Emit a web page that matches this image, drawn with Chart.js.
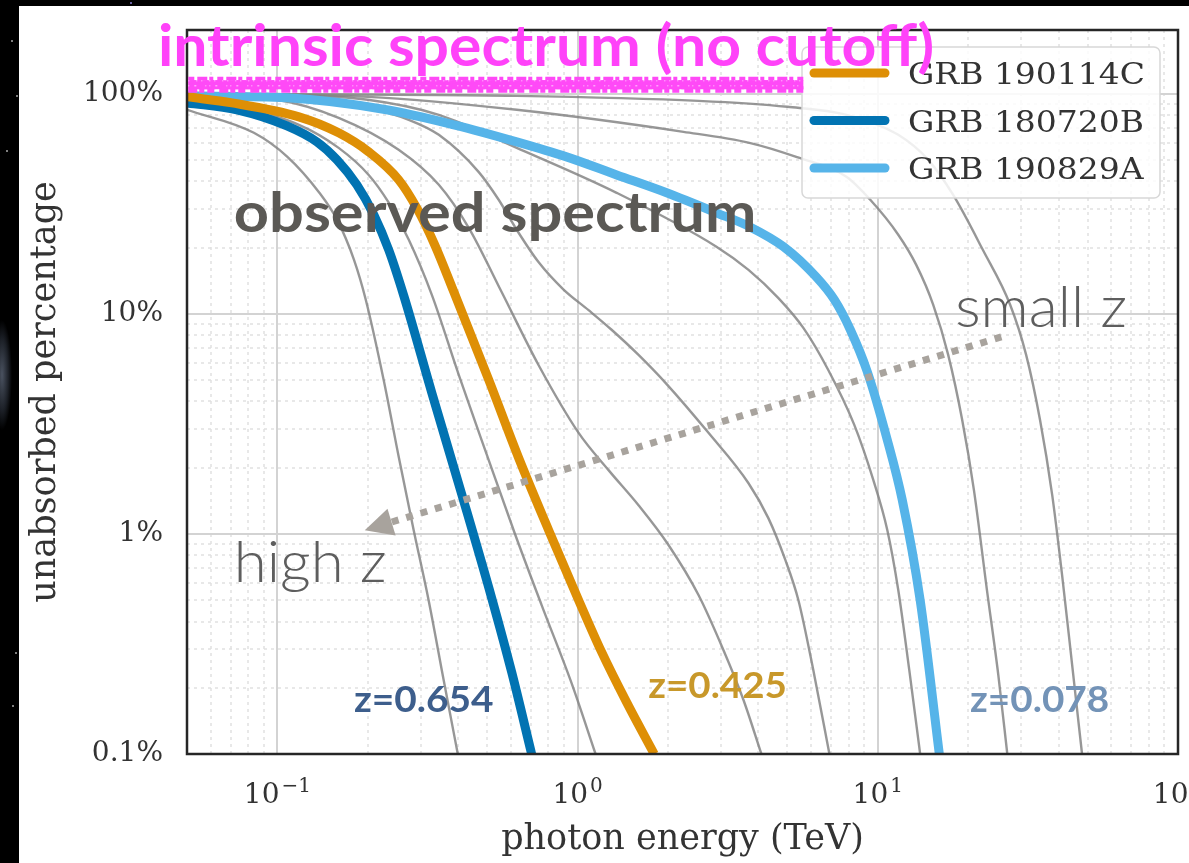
<!DOCTYPE html>
<html>
<head>
<meta charset="utf-8">
<title>EBL absorption</title>
<script src="https://cdn.jsdelivr.net/npm/chart.js@4.4.1/dist/chart.umd.min.js"></script>
<style>
    html, body { margin: 0; padding: 0; background: #000; overflow: hidden; width: 1189px; height: 863px; }
    body { background: radial-gradient(ellipse 10px 55px at 2px 375px, #4a5260 0%, #1c2027 65%, #000 100%), #000; }
    #panel { position: absolute; left: 19px; top: 6px; right: 0; bottom: 0; background: #fff; }
    #chart { position: absolute; left: 0; top: 0; }
    .star { position: absolute; width: 2px; height: 2px; background: #aaa; border-radius: 1px; }
</style>
</head>
<body>
<div class="star" style="left:11px;top:40px"></div>
<div class="star" style="left:16px;top:95px"></div>
<div class="star" style="left:6px;top:150px"></div>
<div class="star" style="left:12px;top:705px"></div>
<div class="star" style="left:15px;top:652px"></div>
<div class="star" style="left:130px;top:2px;background:#8a7fd6"></div>
<div id="panel"></div>
<canvas id="chart" width="1189" height="863"></canvas>
<script>
// photon energy (TeV) vs unabsorbed percentage
const grb190114C = [
    [0.05, 96.9], [0.0706, 91.0], [0.118, 78.6], [0.16, 66.5], [0.2015, 54.5],
    [0.2535, 40.7], [0.2912, 30.3], [0.3343, 20.6], [0.387, 12.6], [0.506, 5.01],
    [0.636, 2.22], [0.801, 1.04], [1.008, 0.5], [1.202, 0.291], [1.456, 0.172], [1.8, 0.1]
];
const grb180720B = [
    [0.05, 91.0], [0.0733, 84.6], [0.1076, 71.5], [0.1354, 60.5], [0.158, 50.1],
    [0.1839, 38.6], [0.2095, 28.2], [0.235, 19.5], [0.2636, 12.1], [0.327, 4.37],
    [0.411, 1.52], [0.5174, 0.512], [0.603, 0.236], [0.703, 0.1]
];
const grb190829A = [
    [0.05, 97.9], [0.108, 95.9], [0.231, 84.6], [0.387, 72.3], [0.627, 60.5],
    [0.919, 51.7], [1.35, 42.8], [1.98, 35.5], [2.9, 28.8], [3.74, 24.9],
    [4.85, 20.2], [6.24, 14.7], [7.165, 11.6], [8.1, 8.47], [9.23, 5.45],
    [10.76, 2.67], [12.06, 1.43], [13.84, 0.5], [16.03, 0.1]
];

// grey reference curves, highest redshift first
const otherZ1 = [[0.05, 84.6], [0.0835, 66.5], [0.108, 51.7], [0.138, 35.5], [0.158, 26.8], [0.18, 17.6], [0.197, 11.6], [0.226, 5.01], [0.2535, 2.25], [0.2845, 1.04], [0.319, 0.5], [0.358, 0.217], [0.399, 0.1]];
const otherZ2 = [[0.05, 94.0], [0.0706, 88.2], [0.118, 72.3], [0.16, 56.8], [0.2015, 42.8], [0.235, 32.0], [0.274, 21.7], [0.327, 12.2], [0.402, 5.28], [0.498, 2.3], [0.617, 1.01], [0.759, 0.475], [0.955, 0.21], [1.148, 0.1]];
const otherZ3 = [[0.05, 99.0], [0.0996, 94.0], [0.16, 77.8], [0.2535, 55.7], [0.345, 38.6], [0.434, 24.6], [0.558, 12.6], [0.741, 5.86], [1.008, 2.88], [1.268, 1.95], [1.596, 1.35], [2.008, 0.891], [2.528, 0.528], [3.06, 0.297], [3.57, 0.176], [4.095, 0.1]];
const otherZ4 = [[0.05, 100], [0.0996, 97.9], [0.2, 86.4], [0.274, 76.2], [0.345, 65.1], [0.468, 44.2], [0.546, 33.0], [0.627, 24.1], [0.741, 17.2], [0.898, 12.9], [1.088, 10.4], [1.298, 8.47], [1.596, 6.51], [1.963, 4.86], [2.729, 2.88], [3.71, 1.7], [4.32, 1.18], [4.92, 0.762], [5.44, 0.5], [6.1, 0.24], [6.9, 0.1]];
const otherZ5 = [[0.05, 100], [0.0996, 99.0], [0.2, 94.0], [0.345, 80.3], [0.627, 56.8], [1.349, 35.5], [2.901, 20.2], [3.71, 15.85], [4.667, 11.8], [5.65, 8.64], [6.84, 5.56], [8.35, 3.13], [9.66, 1.76], [10.76, 1.04], [11.7, 0.556], [12.73, 0.241], [13.84, 0.1]];
const otherZ6 = [[0.05, 100], [0.2, 96.9], [0.627, 84.6], [2.253, 67.2], [3.735, 59.9], [5.35, 51.7], [7.86, 42.0], [9.44, 33.0], [11.7, 22.9], [13.43, 16.7], [15.3, 11.0], [17.16, 6.51], [19.1, 3.3], [20.9, 1.585], [23.1, 0.556], [25.2, 0.229], [27.0, 0.1]];
const otherZ7 = [[0.05, 100], [0.627, 97.9], [2.528, 92.9], [5.0, 87.3], [7.86, 80.3], [11.7, 65.1], [14.72, 50.1], [17.83, 34.7], [22.4, 19.5], [27.6, 11.0], [31.2, 6.51], [34.7, 3.3], [38.1, 1.504], [41.1, 0.651], [44.4, 0.254], [47.9, 0.1]];

const grbSeries = [grb190114C, grb180720B, grb190829A];
const grbLabels = ['GRB 190114C', 'GRB 180720B', 'GRB 190829A'];
const otherSeries = [otherZ1, otherZ2, otherZ3, otherZ4, otherZ5, otherZ6, otherZ7];

const GRB_COLORS = ['#de8f05', '#0173b2', '#56b4e9'];
const SERIF = 'DejaVu Serif';

function toPoints(pairs) {
    return pairs.map(p => ({ x: p[0], y: p[1] }));
}

function tickKind(v) {
    const e = Math.floor(Math.log10(v) + 1e-9);
    const m = v / Math.pow(10, e);
    const r = Math.round(m);
    if (Math.abs(m - r) > 1e-6) return 'none';
    return (r === 1 || r === 10) ? 'major' : 'minor';
}

const datasets = [];
grbSeries.forEach((s, i) => {
    datasets.push({
        label: grbLabels[i],
        data: toPoints(s),
        borderColor: GRB_COLORS[i],
        borderWidth: 9,
        order: 0
    });
});
otherSeries.forEach(s => {
    datasets.push({
        label: '',
        data: toPoints(s),
        borderColor: 'rgba(128,128,128,0.82)',
        borderWidth: 2.4,
        order: 1
    });
});
datasets.forEach(d => {
    d.pointRadius = 0;
    d.cubicInterpolationMode = 'monotone';
    d.clip = 0;
    d.fill = false;
});

// log grid: solid majors, dotted minors
const gridPlugin = {
    id: 'logGrid',
    beforeDatasetsDraw(chart) {
        const { ctx, chartArea: a, scales: { x, y } } = chart;
        ctx.save();
        ['minor', 'major'].forEach(kind => {
            ctx.strokeStyle = kind === 'major' ? '#d3d3d3' : '#e1e1e1';
            ctx.lineWidth = kind === 'major' ? 2 : 1.5;
            ctx.setLineDash(kind === 'major' ? [] : [3, 4]);
            x.ticks.forEach(t => {
                if (tickKind(t.value) !== kind) return;
                const p = Math.round(x.getPixelForValue(t.value));
                ctx.beginPath(); ctx.moveTo(p, a.top); ctx.lineTo(p, a.bottom); ctx.stroke();
            });
            y.ticks.forEach(t => {
                if (tickKind(t.value) !== kind) return;
                const p = Math.round(y.getPixelForValue(t.value));
                ctx.beginPath(); ctx.moveTo(a.left, p); ctx.lineTo(a.right, p); ctx.stroke();
            });
        });
        ctx.restore();
    }
};

function fitText(ctx, text, x1, x2, yBase, font, color) {
    ctx.save();
    ctx.font = font;
    ctx.fillStyle = color;
    ctx.textBaseline = 'alphabetic';
    ctx.textAlign = 'left';
    const w = ctx.measureText(text).width;
    ctx.translate(x1, yBase);
    ctx.scale((x2 - x1) / w, 1);
    ctx.fillText(text, 0, 0);
    ctx.restore();
}

// x tick labels as 10 with a raised exponent, centred on each decade
function drawPowerLabels(ctx, scale, baseY) {
    ctx.save();
    ctx.fillStyle = '#333';
    ctx.textBaseline = 'alphabetic';
    ctx.textAlign = 'left';
    scale.ticks.forEach(t => {
        if (tickKind(t.value) !== 'major') return;
        const exp = String(Math.round(Math.log10(t.value))).replace('-', '\u2212');
        ctx.font = '28px "' + SERIF + '"';
        const wBase = ctx.measureText('10').width;
        ctx.font = '20px "' + SERIF + '"';
        const wExp = ctx.measureText(exp).width;
        const x0 = scale.getPixelForValue(t.value) - (wBase + 2 + wExp) / 2;
        ctx.font = '28px "' + SERIF + '"';
        ctx.fillText('10', x0, baseY);
        ctx.font = '20px "' + SERIF + '"';
        ctx.fillText(exp, x0 + wBase + 2, baseY - 11);
    });
    ctx.restore();
}

const overlayPlugin = {
    id: 'overlay',
    afterDraw(chart) {
        const { ctx, chartArea: a, scales: { x, y } } = chart;
        const px = v => x.getPixelForValue(v);
        const py = v => y.getPixelForValue(v);
        ctx.save();

        drawPowerLabels(ctx, x, a.bottom + 49);

        // axes frame
        ctx.strokeStyle = '#262626';
        ctx.lineWidth = 2.5;
        ctx.strokeRect(a.left, a.top, a.right - a.left, a.bottom - a.top);

        // legend, upper right
        const lw = 358, lh = 151;
        const lx = a.right - 18 - lw, ly = a.top + 17;
        ctx.fillStyle = 'rgba(255,255,255,0.85)';
        ctx.strokeStyle = '#d8d8d8';
        ctx.lineWidth = 1.5;
        ctx.beginPath();
        ctx.roundRect(lx, ly, lw, lh, 6);
        ctx.fill();
        ctx.stroke();
        ctx.font = '30px "' + SERIF + '"';
        const sx = 237 / ctx.measureText(grbLabels[0]).width;
        grbLabels.forEach((label, i) => {
            const ry = ly + 26 + i * 47.5;
            ctx.strokeStyle = GRB_COLORS[i];
            ctx.lineWidth = 9;
            ctx.lineCap = 'round';
            ctx.beginPath(); ctx.moveTo(lx + 12, ry); ctx.lineTo(lx + 83, ry); ctx.stroke();
            ctx.save();
            ctx.fillStyle = '#333';
            ctx.textBaseline = 'alphabetic';
            ctx.translate(lx + 106, ry + 11);
            ctx.scale(sx, 1);
            ctx.fillText(label, 0, 0);
            ctx.restore();
        });
        ctx.lineCap = 'butt';

        // hand-drawn "intrinsic" stroke at the top
        const s1 = px(0.0505), s2 = px(5.65), sy = py(110);
        ctx.strokeStyle = '#ff4af7';
        ctx.lineWidth = 9;
        ctx.beginPath(); ctx.moveTo(s1, sy); ctx.lineTo(s2, sy); ctx.stroke();
        [[-6, 4, [6, 3, 10, 2, 4, 4]], [6, 4, [9, 2, 5, 3, 7, 5]], [-3, 3, [14, 3, 3, 2]], [3, 3, [4, 6, 11, 2]]].forEach(r => {
            ctx.lineWidth = r[1];
            ctx.setLineDash(r[2]);
            ctx.beginPath(); ctx.moveTo(s1, sy + r[0]); ctx.lineTo(s2, sy + r[0]); ctx.stroke();
        });
        ctx.strokeStyle = 'rgba(255,255,255,0.5)';
        ctx.lineWidth = 1.5;
        ctx.setLineDash([1, 5, 2, 9, 1, 3]);
        ctx.beginPath(); ctx.moveTo(s1, sy + 1); ctx.lineTo(s2, sy + 1); ctx.stroke();
        ctx.setLineDash([1, 7, 1, 4]);
        ctx.beginPath(); ctx.moveTo(s1, sy - 4); ctx.lineTo(s2, sy - 4); ctx.stroke();
        ctx.setLineDash([]);

        // dotted arrow from small z to high z
        const tx = px(25.8), ty = py(7.86), hx = px(0.1955), hy = py(1.04);
        const dx = hx - tx, dy = hy - ty, len = Math.hypot(dx, dy);
        const ux = dx / len, uy = dy / len;
        const bx = hx - ux * 28, by = hy - uy * 28;
        ctx.strokeStyle = '#a8a39d';
        ctx.fillStyle = '#a8a39d';
        ctx.lineWidth = 7;
        ctx.setLineDash([7, 8]);
        ctx.beginPath(); ctx.moveTo(tx, ty); ctx.lineTo(bx, by); ctx.stroke();
        ctx.setLineDash([]);
        ctx.beginPath();
        ctx.moveTo(hx, hy);
        ctx.lineTo(bx - uy * 14, by + ux * 14);
        ctx.lineTo(bx + uy * 14, by - ux * 14);
        ctx.closePath();
        ctx.fill();

        // text notes
        fitText(ctx, 'intrinsic spectrum (no cutoff)', px(0.040), px(15.4), py(134), '700 57px Lato', '#ff42f9');
        fitText(ctx, 'observed spectrum', px(0.0716), px(3.94), py(23.6), '700 56px Lato', '#5b5955');
        fitText(ctx, 'small z', px(18.1), px(67.6), py(8.7), '300 58px Lato', '#5e5e5e');
        fitText(ctx, 'high z', px(0.0716), px(0.231), py(0.602), '300 58px Lato', '#5e5e5e');
        fitText(ctx, 'z=0.654', px(0.180), px(0.525), py(0.155), '700 36px Lato', '#3d5e8c');
        fitText(ctx, 'z=0.425', px(1.72), px(4.98), py(0.18), '700 36px Lato', '#c8982a');
        fitText(ctx, 'z=0.078', px(20.3), px(59.0), py(0.155), '700 36px Lato', '#7393b7');

        ctx.restore();
    }
};

try {
    const ctx = document.getElementById('chart').getContext('2d');
    window.eblChart = new Chart(ctx, {
        type: 'line',
        data: { datasets: datasets },
        options: {
            responsive: false,
            animation: false,
            layout: { padding: { left: 25, top: 30, right: 11, bottom: 2 } },
            plugins: {
                legend: { display: false },
                tooltip: { enabled: false }
            },
            scales: {
                x: {
                    type: 'logarithmic',
                    min: 0.05,
                    max: 100,
                    grid: { display: false, drawTicks: false },
                    border: { display: false },
                    ticks: {
                        autoSkip: false,
                        maxRotation: 0,
                        font: { family: SERIF, size: 28 },
                        callback: () => ''
                    },
                    title: {
                        display: true,
                        text: 'photon energy (TeV)',
                        color: '#333',
                        font: { family: SERIF, size: 35 },
                        padding: 0
                    },
                    afterFit: s => {
                        s.height = 863 - 2 - 754;
                        s.paddingLeft = 0;
                        s.paddingRight = 0;
                    }
                },
                y: {
                    type: 'logarithmic',
                    min: 0.1,
                    max: 195,
                    grid: { display: false, drawTicks: false },
                    border: { display: false },
                    ticks: {
                        autoSkip: false,
                        padding: 24,
                        color: '#333',
                        font: { family: SERIF, size: 28 },
                        callback: v => tickKind(v) === 'major' ? (v < 1 ? v : Math.round(v)) + '%' : ''
                    },
                    title: {
                        display: true,
                        text: 'unabsorbed percentage',
                        color: '#333',
                        font: { family: SERIF, size: 35 },
                        padding: 0
                    },
                    afterFit: s => {
                        s.width = 187 - 25;
                        s.paddingTop = 0;
                        s.paddingBottom = 0;
                    }
                }
            }
        },
        plugins: [gridPlugin, overlayPlugin]
    });
} catch (error) {
    console.error('Error drawing chart:', error);
}
</script>
</body>
</html>
